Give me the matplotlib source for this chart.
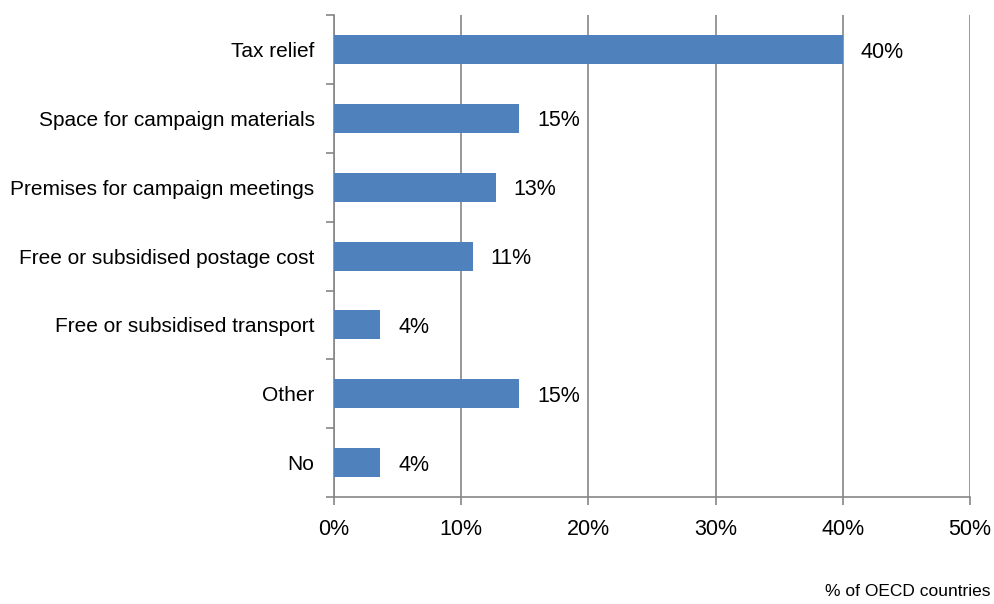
import matplotlib.pyplot as plt
import numpy as np

plt.rcParams['font.family'] = ['Liberation Sans', 'DejaVu Sans']

categories = ['Tax relief', 'Space for campaign materials', 'Premises for campaign meetings',
              'Free or subsidised postage cost', 'Free or subsidised transport', 'Other', 'No']
shares = [40.0, 14.55, 12.73, 10.91, 3.64, 14.55, 3.64]
xticks = [0, 10, 20, 30, 40, 50]

bar_color = '#4F81BD'
line_color = '#868686'

fig = plt.figure(figsize=(9.94, 6.04), dpi=100)
ax = fig.add_axes([0.336, 0.177, 0.640, 0.798])

y = np.arange(len(categories))
ax.barh(y, shares, height=0.42, color=bar_color, zorder=3)
for yi, v in zip(y, shares):
    ax.text(v + 1.4, yi, '%.0f%%' % v, va='center_baseline', ha='left', fontsize=15.5)

ax.set_xlim(0, 50)
ax.set_ylim(len(categories) - 0.5, -0.5)
ax.set_xticks(xticks)
ax.set_xticklabels(['%d%%' % t for t in xticks], fontsize=15.5)
ax.set_yticks(y)
ax.set_yticklabels(categories, fontsize=15)
ax.set_yticks(np.arange(-0.5, len(categories)), minor=True)
ax.tick_params(axis='y', which='major', length=0, pad=14)
ax.tick_params(axis='y', which='minor', length=6, color=line_color, width=1.2)
ax.tick_params(axis='x', length=6, color=line_color, width=1.2, pad=10)

ax.grid(axis='x', color=line_color, linewidth=1.2, zorder=0)
for side in ['top', 'right']:
    ax.spines[side].set_visible(False)
for side in ['left', 'bottom']:
    ax.spines[side].set_color(line_color)
    ax.spines[side].set_linewidth(1.2)

fig.text(0.996, 0.008, '% of OECD countries', ha='right', va='bottom', fontsize=12.5)

fig.savefig('out.png', dpi=100)
